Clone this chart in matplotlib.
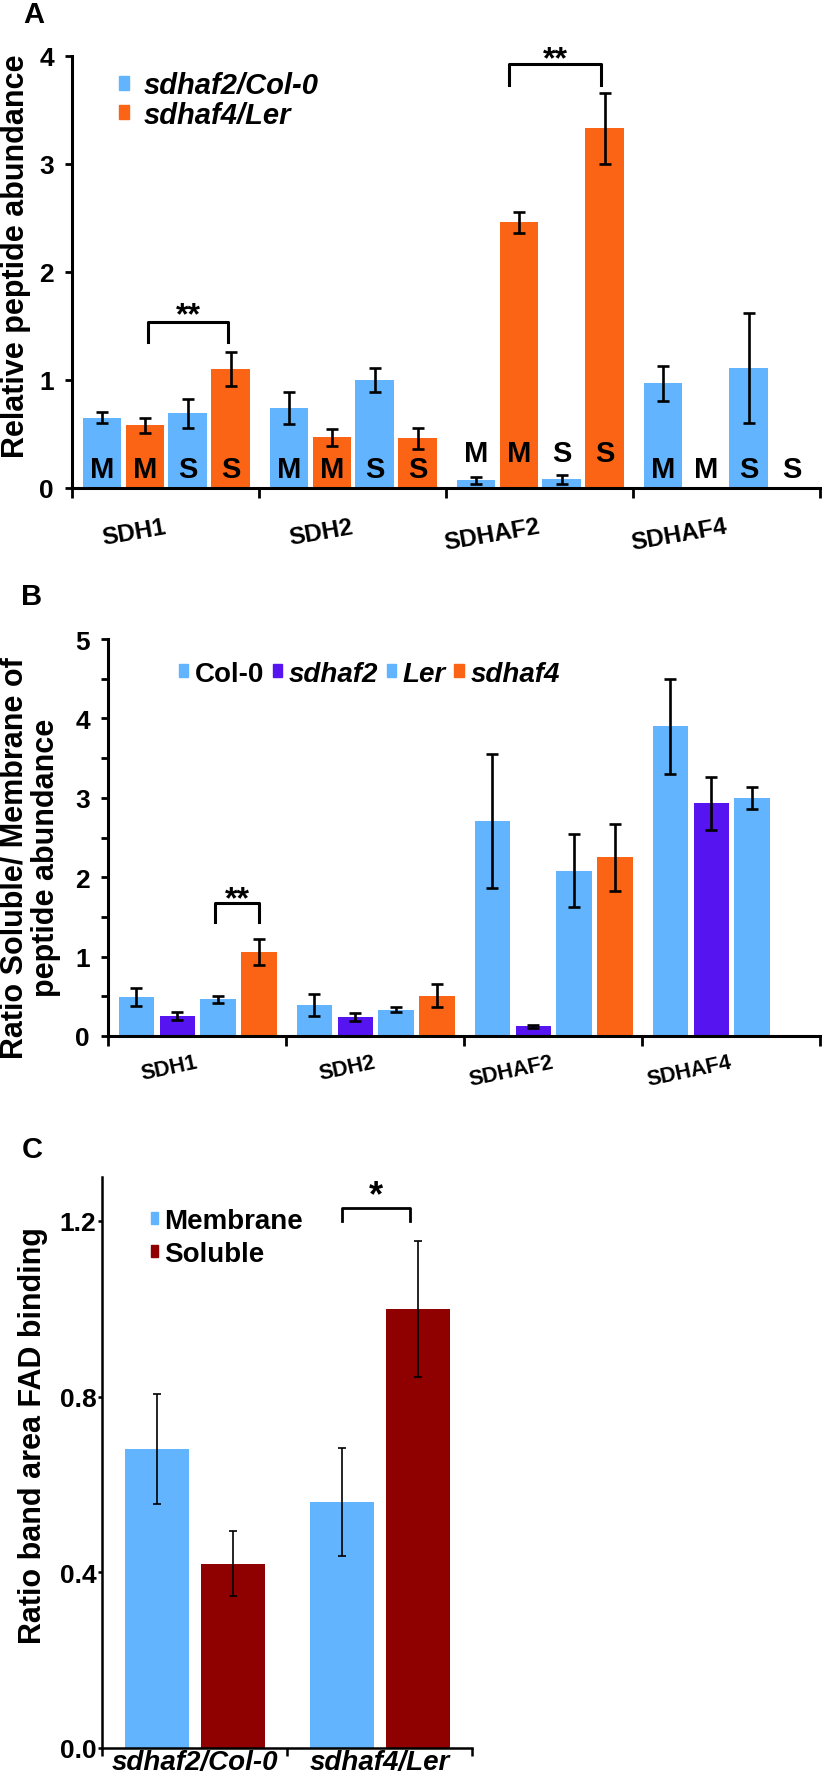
import numpy as np
import matplotlib
matplotlib.use('Agg')
import matplotlib.pyplot as plt
from matplotlib.patches import Patch

plt.rcParams['font.family'] = ['Liberation Sans', 'DejaVu Sans']
plt.rcParams['font.weight'] = 'bold'

W, H = 822, 1781

genes = ['SDH1', 'SDH2', 'SDHAF2', 'SDHAF4']

# A: relative peptide abundance, membrane (M) and soluble (S) fractions
a_m_col = [0.65, 0.74, 0.07, 0.97]
a_m_col_err = [0.05, 0.15, 0.035, 0.16]
a_m_ler = [0.58, 0.47, 2.46, 0.0]
a_m_ler_err = [0.07, 0.08, 0.10, 0.0]
a_s_col = [0.69, 1.00, 0.08, 1.11]
a_s_col_err = [0.13, 0.11, 0.045, 0.51]
a_s_ler = [1.10, 0.46, 3.33, 0.0]
a_s_ler_err = [0.16, 0.10, 0.33, 0.0]
a_fraction = ['M', 'M', 'S', 'S']

# B: ratio soluble / membrane
b_col0 = [0.49, 0.39, 2.71, 3.90]
b_col0_err = [0.11, 0.14, 0.84, 0.60]
b_sdhaf2 = [0.25, 0.24, 0.12, 2.93]
b_sdhaf2_err = [0.05, 0.05, 0.015, 0.33]
b_ler = [0.46, 0.33, 2.08, 3.00]
b_ler_err = [0.04, 0.03, 0.46, 0.14]
b_sdhaf4 = [1.06, 0.51, 2.25, 0.0]
b_sdhaf4_err = [0.16, 0.14, 0.42, 0.0]

# C: FAD binding band area
c_lines = ['sdhaf2/Col-0', 'sdhaf4/Ler']
c_membrane = [0.68, 0.56]
c_membrane_err = [0.125, 0.124]
c_soluble = [0.42, 1.00]
c_soluble_err = [0.075, 0.155]

BLUE = '#63B4FF'
ORANGE = '#FA6414'
PURPLE = '#5514F0'
DARKRED = '#8F0000'


def axes_px(fig, left, top, right, bottom):
    return fig.add_axes([left / W, 1 - bottom / H, (right - left) / W, (bottom - top) / H])


def bars(ax, x, vals, errs, color, width, elw, cap):
    vals = np.asarray(vals, float)
    errs = np.asarray(errs, float)
    ax.bar(x, vals, width, color=color, zorder=2)
    keep = errs > 0
    ax.errorbar(x[keep], vals[keep], yerr=errs[keep], fmt='none', ecolor='black',
                elinewidth=elw, capsize=cap, capthick=elw, zorder=3)


def style_axes(ax, lw):
    for s in ['top', 'right']:
        ax.spines[s].set_visible(False)
    for s in ['left', 'bottom']:
        ax.spines[s].set_linewidth(lw)


def bracket(ax, x0, x1, ytip, ytop, lw, star, star_y, size):
    ax.plot([x0, x0, x1, x1], [ytip, ytop, ytop, ytip], color='black', lw=lw,
            clip_on=False, zorder=4)
    ax.text((x0 + x1) / 2, star_y, star, ha='center', va='baseline', fontsize=size)


fig = plt.figure(figsize=(W / 100, H / 100), dpi=100)

# ---------------- A ----------------
g = np.arange(4)
offs = [0.16, 0.39, 0.618, 0.848]
axA = axes_px(fig, 72, 57, 820, 489)
seriesA = [(a_m_col, a_m_col_err, BLUE), (a_m_ler, a_m_ler_err, ORANGE),
           (a_s_col, a_s_col_err, BLUE), (a_s_ler, a_s_ler_err, ORANGE)]
for k, (v, e, c) in enumerate(seriesA):
    bars(axA, g + offs[k], v, e, c, 0.205, 1.9, 4.5)
axA.set_xlim(0, 4)
axA.set_ylim(0, 4)
style_axes(axA, 2.2)
axA.set_yticks([0, 1, 2, 3, 4])
axA.tick_params(axis='y', labelsize=19, length=5, width=2, pad=8)
axA.set_xticks([0, 1, 2, 3, 4])
axA.set_xticklabels([])
axA.tick_params(axis='x', length=7, width=2)

label_h = [0.18, 0.18, 0.32, 0.18]
for i in range(4):
    for k in range(4):
        axA.text(i + offs[k], label_h[i], a_fraction[k], ha='center', va='center',
                 fontsize=21, zorder=5)
for i, name in enumerate(genes):
    axA.text(i + 0.5, -0.088, name, transform=axA.get_xaxis_transform(), ha='right',
             va='center', rotation=10, rotation_mode='anchor', fontsize=17.5)

bracket(axA, 0.406, 0.834, 1.35, 1.54, 2.2, '**', 1.53, 23)
bracket(axA, 2.337, 2.829, 3.73, 3.93, 2.2, '**', 3.90, 23)

legA = axA.legend(handles=[Patch(color=BLUE, label='sdhaf2/Col-0'),
                           Patch(color=ORANGE, label='sdhaf4/Ler')],
                  loc='upper left', bbox_to_anchor=(0.063, 0.965), frameon=False,
                  prop=dict(size=21, weight='bold', style='italic'),
                  handlelength=0.35, handleheight=0.35, handletextpad=0.5,
                  labelspacing=0.05, borderpad=0, borderaxespad=0)

# ---------------- B ----------------
axB = axes_px(fig, 108, 640, 820, 1037)
seriesB = [(b_col0, b_col0_err, BLUE), (b_sdhaf2, b_sdhaf2_err, PURPLE),
           (b_ler, b_ler_err, BLUE), (b_sdhaf4, b_sdhaf4_err, ORANGE)]
for k, (v, e, c) in enumerate(seriesB):
    bars(axB, g + offs[k], v, e, c, 0.2, 1.9, 4.5)
axB.set_xlim(0, 4)
axB.set_ylim(0, 5)
style_axes(axB, 2.2)
axB.set_yticks([0, 1, 2, 3, 4, 5])
axB.set_yticks(np.arange(0.5, 5, 1.0), minor=True)
axB.tick_params(axis='y', which='both', labelsize=19, length=5, width=2, pad=8)
axB.set_xticks([0, 1, 2, 3, 4])
axB.set_xticklabels([])
axB.tick_params(axis='x', length=7, width=2)
for i, name in enumerate(genes):
    axB.text(i + 0.5, -0.065, name, transform=axB.get_xaxis_transform(), ha='right',
             va='center', rotation=12, rotation_mode='anchor', fontsize=15.5)

bracket(axB, 0.601, 0.848, 1.43, 1.68, 2.2, '**', 1.62, 23)

legB = axB.legend(handles=[Patch(color=BLUE, label='Col-0'),
                           Patch(color=PURPLE, label='sdhaf2'),
                           Patch(color=BLUE, label='Ler'),
                           Patch(color=ORANGE, label='sdhaf4')],
                  loc='upper left', bbox_to_anchor=(0.1, 0.945), frameon=False,
                  ncol=4, prop=dict(size=20, weight='bold'),
                  handlelength=0.33, handleheight=0.33, handletextpad=0.25,
                  columnspacing=0.3, borderpad=0, borderaxespad=0)
for t in legB.get_texts()[1:]:
    t.set_style('italic')

# ---------------- C ----------------
gc = np.arange(2)
axC = axes_px(fig, 102, 1178, 472, 1749)
bars(axC, gc + 0.297, c_membrane, c_membrane_err, BLUE, 0.35, 1.2, 3)
bars(axC, gc + 0.708, c_soluble, c_soluble_err, DARKRED, 0.35, 1.2, 3)
axC.set_xlim(0, 2)
axC.set_ylim(0, 1.3)
style_axes(axC, 1.8)
axC.set_yticks([0, 0.4, 0.8, 1.2])
axC.set_yticklabels(['0.0', '0.4', '0.8', '1.2'])
axC.tick_params(axis='y', labelsize=19, length=3, width=1.8, pad=1)
axC.set_xticks([0.5, 1.5])
axC.set_xticklabels(c_lines, fontsize=20, style='italic')
axC.tick_params(axis='x', which='major', length=0, pad=1)
axC.set_xticks([0, 1, 2], minor=True)
axC.tick_params(axis='x', which='minor', length=6, width=1.8)

bracket(axC, 1.297, 1.665, 1.20, 1.23, 2.0, '*', 1.235, 26)

legC = axC.legend(handles=[Patch(color=BLUE, label='Membrane'),
                           Patch(color=DARKRED, label='Soluble')],
                  loc='upper left', bbox_to_anchor=(0.132, 0.946), frameon=False,
                  prop=dict(size=20, weight='bold'),
                  handlelength=0.27, handleheight=0.27, handletextpad=0.2,
                  labelspacing=0.25, borderpad=0, borderaxespad=0)

# ---------------- panel letters and y labels ----------------
def ftext(x, y, s, **kw):
    fig.text(x / W, 1 - y / H, s, **kw)

ftext(34, 15, 'A', ha='center', va='center', fontsize=21)
ftext(32, 597, 'B', ha='center', va='center', fontsize=21)
ftext(32, 1150, 'C', ha='center', va='center', fontsize=21)

ftext(16, 256, 'Relative peptide abundance', rotation=90, ha='center', va='center',
      fontsize=22)
ftext(30, 858, 'Ratio Soluble/ Membrane of\npeptide abundance', rotation=90,
      ha='center', va='center', fontsize=22, multialignment='center', linespacing=1.08)
ftext(33, 1436, 'Ratio band area FAD binding', rotation=90, ha='center', va='center',
      fontsize=22)

fig.savefig('out.png', dpi=100)
